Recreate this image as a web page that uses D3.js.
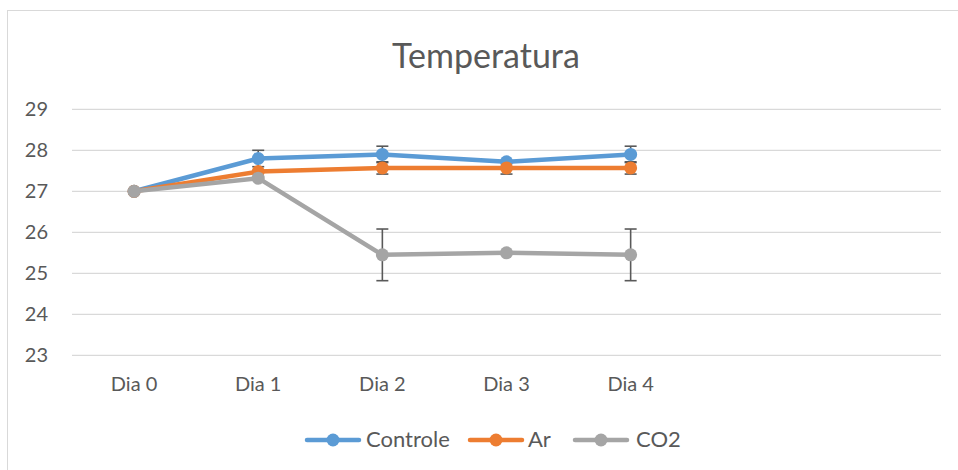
<!DOCTYPE html>
<html>
<head>
<meta charset="utf-8">
<script src="https://cdn.jsdelivr.net/npm/d3@7"></script>
<style>
  body { margin: 0; background: #fff; }
  svg { display: block; font-family: Lato, "Open Sans", sans-serif; }
</style>
</head>
<body>
<svg width="958" height="470"></svg>
<script>
const categories = ['Dia 0', 'Dia 1', 'Dia 2', 'Dia 3', 'Dia 4'];
const slotCount = 7;
const yTicks = [23, 24, 25, 26, 27, 28, 29];

const seriesNames = ['Controle', 'Ar', 'CO2'];
const controle = [27, 27.8, 27.9, 27.72, 27.9];
const ar = [27, 27.48, 27.57, 27.57, 27.57];
const co2 = [27, 27.32, 25.45, 25.5, 25.45];
const controleErr = [0, 0.2, 0.2, 0, 0.2];
const arErr = [0, 0, 0.15, 0.15, 0.15];
const co2Err = [0, 0, 0.63, 0, 0.63];
const colors = ['#5B9BD5', '#ED7D31', '#A5A5A5'];

const series = [
  { name: seriesNames[0], values: controle, err: controleErr, color: colors[0] },
  { name: seriesNames[1], values: ar, err: arErr, color: colors[1] },
  { name: seriesNames[2], values: co2, err: co2Err, color: colors[2] }
];

const svg = d3.select('svg');
const textColor = '#595959';

// chart frame
svg.append('rect')
  .attr('x', 7.5).attr('y', 10.5)
  .attr('width', 960).attr('height', 470)
  .attr('fill', 'none').attr('stroke', '#d9d9d9');

svg.append('text')
  .attr('x', 486).attr('y', 68)
  .attr('text-anchor', 'middle')
  .attr('font-size', 34)
  .attr('fill', textColor)
  .text('Temperatura');

const xScale = d3.scaleBand()
  .domain(d3.range(slotCount))
  .range([72, 941]);

const yScale = d3.scaleLinear()
  .domain([23, 29])
  .range([355.3, 109.3]);

const xPos = i => xScale(i) + xScale.bandwidth() / 2;

// gridlines
svg.append('g')
  .selectAll('line').data(yTicks)
  .enter().append('line')
    .attr('x1', 72).attr('x2', 941)
    .attr('y1', d => yScale(d)).attr('y2', d => yScale(d))
    .attr('stroke', '#d9d9d9').attr('stroke-width', 1.3);

// y axis labels
const yAxis = svg.append('g')
  .attr('transform', 'translate(72,0)')
  .call(d3.axisLeft(yScale).tickValues(yTicks).tickFormat(d3.format('d')).tickSize(0).tickPadding(24));
yAxis.select('.domain').remove();
yAxis.selectAll('text').attr('font-size', 20).attr('fill', textColor).attr('font-family', 'Lato, sans-serif');

// x axis labels
const xAxis = svg.append('g')
  .attr('transform', 'translate(0,370)')
  .call(d3.axisBottom(xScale).tickFormat(i => categories[i] || '').tickSize(0).tickPadding(7));
xAxis.select('.domain').remove();
xAxis.selectAll('text').attr('font-size', 20).attr('fill', textColor).attr('font-family', 'Lato, sans-serif');

// error bars
const errG = svg.append('g').attr('stroke', '#595959').attr('stroke-width', 1.6);
series.forEach(s => {
  s.values.forEach((v, i) => {
    const e = s.err[i];
    if (!e) return;
    const x = xPos(i);
    const y1 = yScale(v + e), y2 = yScale(v - e);
    errG.append('line').attr('x1', x).attr('x2', x).attr('y1', y1).attr('y2', y2);
    errG.append('line').attr('x1', x - 6).attr('x2', x + 6).attr('y1', y1).attr('y2', y1);
    errG.append('line').attr('x1', x - 6).attr('x2', x + 6).attr('y1', y2).attr('y2', y2);
  });
});

const line = d3.line()
  .x((d, i) => xPos(i))
  .y(d => yScale(d));

series.forEach(s => {
  svg.append('path')
    .datum(s.values)
    .attr('d', line)
    .attr('fill', 'none')
    .attr('stroke', s.color)
    .attr('stroke-width', 4.5)
    .attr('stroke-linejoin', 'round');
  svg.append('g').selectAll('circle').data(s.values)
    .enter().append('circle')
      .attr('cx', (d, i) => xPos(i))
      .attr('cy', d => yScale(d))
      .attr('r', 6.5)
      .attr('fill', s.color);
});

// legend
const legendItems = [
  { x: 307, textX: 366 },
  { x: 470, textX: 528 },
  { x: 575, textX: 636 }
];
const legend = svg.append('g');
series.forEach((s, i) => {
  const it = legendItems[i];
  legend.append('line')
    .attr('x1', it.x).attr('x2', it.x + 52)
    .attr('y1', 440).attr('y2', 440)
    .attr('stroke', s.color).attr('stroke-width', 4.5).attr('stroke-linecap', 'round');
  legend.append('circle')
    .attr('cx', it.x + 26).attr('cy', 440).attr('r', 6.5)
    .attr('fill', s.color);
  legend.append('text')
    .attr('x', it.textX).attr('y', 447)
    .attr('font-size', 22).attr('fill', textColor)
    .text(s.name);
});
</script>
</body>
</html>
